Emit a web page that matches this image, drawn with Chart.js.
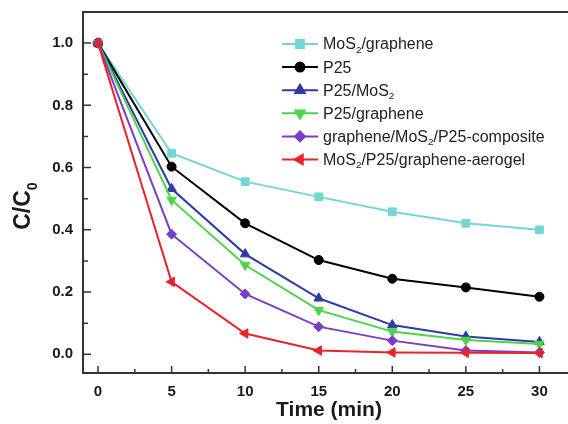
<!DOCTYPE html>
<html>
<head>
<meta charset="utf-8">
<script src="https://cdn.jsdelivr.net/npm/chart.js@4.4.1/dist/chart.umd.min.js"></script>
<style>
html,body{margin:0;padding:0;background:#fff}
#wrap{width:568px;height:424px}
</style>
</head>
<body>
<div id="wrap"><canvas id="chart"></canvas></div>
<script>
// data
const times = [0, 5, 10, 15, 20, 25, 30];
const mos2Graphene = [1.0, 0.646, 0.555, 0.506, 0.458, 0.421, 0.400];
const p25 = [1.0, 0.603, 0.421, 0.303, 0.243, 0.215, 0.185];
const p25Mos2 = [1.0, 0.532, 0.322, 0.180, 0.094, 0.057, 0.040];
const p25Graphene = [1.0, 0.496, 0.287, 0.142, 0.073, 0.046, 0.033];
const composite = [1.0, 0.386, 0.194, 0.089, 0.044, 0.012, 0.006];
const aerogel = [1.0, 0.233, 0.067, 0.012, 0.006, 0.005, 0.004];
const seriesNames = ['MoS₂/graphene', 'P25', 'P25/MoS₂', 'P25/graphene', 'graphene/MoS₂/P25-composite', 'MoS₂/P25/graphene-aerogel'];
const xTicks = [0, 5, 10, 15, 20, 25, 30];
const yTicks = [0, 0.2, 0.4, 0.6, 0.8, 1.0];

const FONT = '"Liberation Sans", Arial, sans-serif';

const styles = [
    {color: '#74d6d4', pointStyle: 'rect', radius: 5.5, rotation: 0},
    {color: '#000000', pointStyle: 'circle', radius: 4.5, rotation: 0},
    {color: '#2f3aa6', pointStyle: 'triangle', radius: 5.5, rotation: 0},
    {color: '#4dd44a', pointStyle: 'triangle', radius: 5.5, rotation: 180},
    {color: '#7a3ec6', pointStyle: 'rectRot', radius: 5, rotation: 0},
    {color: '#e8232b', pointStyle: 'triangle', radius: 5.5, rotation: 270}
];
const allSeries = [mos2Graphene, p25, p25Mos2, p25Graphene, composite, aerogel];

// draws text with ₀ / ₂ as real subscripts
function drawRich(ctx, text, x, y, size, weight, align){
    const sub = {'₀': '0', '₂': '2'};
    const parts = text.split(/([₀₂])/).filter(s => s);
    const setFont = s => { ctx.font = weight + ' ' + s + 'px ' + FONT; };
    let w = 0;
    parts.forEach(p => { setFont(sub[p] ? size * 0.62 : size); w += ctx.measureText(sub[p] || p).width; });
    let cx = align === 'center' ? x - w / 2 : x;
    ctx.textAlign = 'left';
    parts.forEach(p => {
        const s = sub[p];
        setFont(s ? size * 0.62 : size);
        ctx.fillText(s || p, cx, s ? y + size * 0.32 : y);
        cx += ctx.measureText(s || p).width;
    });
}

const framePlugin = {
    id: 'frame',
    afterDraw(chart){
        const ctx = chart.ctx;
        const a = chart.chartArea;
        const xs = chart.scales.x, ys = chart.scales.y;
        ctx.save();
        ctx.strokeStyle = '#333';
        ctx.lineWidth = 2;
        ctx.beginPath();
        ctx.moveTo(chart.width, a.top);
        ctx.lineTo(a.left, a.top);
        ctx.lineTo(a.left, a.bottom);
        ctx.lineTo(chart.width, a.bottom);
        ctx.stroke();

        // inward ticks, major + minor
        ctx.lineWidth = 1.5;
        ctx.beginPath();
        xTicks.forEach((v, i) => {
            const px = xs.getPixelForValue(v);
            ctx.moveTo(px, a.bottom); ctx.lineTo(px, a.bottom - 7);
            if (i < xTicks.length - 1) {
                const mx = xs.getPixelForValue((v + xTicks[i + 1]) / 2);
                ctx.moveTo(mx, a.bottom); ctx.lineTo(mx, a.bottom - 4);
            }
        });
        yTicks.forEach((v, i) => {
            const py = ys.getPixelForValue(v);
            ctx.moveTo(a.left, py); ctx.lineTo(a.left + 8, py);
            if (i < yTicks.length - 1) {
                const my = ys.getPixelForValue((v + yTicks[i + 1]) / 2);
                ctx.moveTo(a.left, my); ctx.lineTo(a.left + 5, my);
            }
        });
        ctx.stroke();

        // axis titles
        ctx.fillStyle = '#1a1a1a';
        ctx.textBaseline = 'alphabetic';
        drawRich(ctx, 'Time (min)', 329, 416, 21, 'bold', 'center');
        ctx.save();
        ctx.translate(30, 206);
        ctx.rotate(-Math.PI / 2);
        drawRich(ctx, 'C/C₀', 0, 0, 23, 'bold', 'center');
        ctx.restore();

        // legend inside plot
        ctx.textBaseline = 'middle';
        seriesNames.forEach((name, i) => {
            const st = styles[i];
            const ly = 44 + i * 23.1;
            ctx.strokeStyle = st.color;
            ctx.fillStyle = st.color;
            ctx.lineWidth = 2;
            ctx.beginPath();
            ctx.moveTo(282, ly); ctx.lineTo(318, ly);
            ctx.stroke();
            Chart.helpers.drawPoint(ctx, {pointStyle: st.pointStyle, rotation: st.rotation, radius: st.radius, borderWidth: 1}, 300, ly);
            ctx.fillStyle = '#222';
            drawRich(ctx, name, 323, ly + 1, 16, 'normal', 'left');
        });
        ctx.restore();
    }
};

new Chart(document.getElementById('chart'), {
    type: 'line',
    data: {
        datasets: allSeries.map((vals, i) => ({
            label: seriesNames[i],
            data: times.map((t, j) => ({x: t, y: vals[j]})),
            borderColor: styles[i].color,
            backgroundColor: styles[i].color,
            pointBackgroundColor: styles[i].color,
            pointBorderColor: styles[i].color,
            pointStyle: styles[i].pointStyle,
            pointRotation: styles[i].rotation,
            pointRadius: styles[i].radius,
            pointBorderWidth: 1,
            borderWidth: 2,
            tension: 0,
            order: 6 - i
        }))
    },
    options: {
        responsive: true,
        maintainAspectRatio: false,
        animation: false,
        layout: { padding: { top: 12, right: 0, left: 0, bottom: 0 } },
        plugins: { legend: { display: false }, tooltip: { enabled: false } },
        scales: {
            x: {
                type: 'linear',
                min: -1.02,
                max: 31.5,
                afterBuildTicks: s => { s.ticks = xTicks.map(v => ({value: v})); },
                afterFit: s => { s.height = 51; s.paddingLeft = 0; s.paddingRight = 0; },
                grid: { display: false, drawTicks: false },
                border: { display: false },
                ticks: { padding: 10, color: '#1a1a1a', font: { family: FONT, size: 15, weight: 'bold' } }
            },
            y: {
                type: 'linear',
                min: -0.06,
                max: 1.1,
                afterBuildTicks: s => { s.ticks = yTicks.map(v => ({value: v})); },
                afterFit: s => { s.width = 83; s.paddingTop = 0; s.paddingBottom = 0; },
                grid: { display: false, drawTicks: false },
                border: { display: false },
                ticks: { padding: 10, color: '#1a1a1a', font: { family: FONT, size: 15, weight: 'bold' },
                    callback: v => v.toFixed(1) }
            }
        }
    },
    plugins: [framePlugin]
});
</script>
</body>
</html>
